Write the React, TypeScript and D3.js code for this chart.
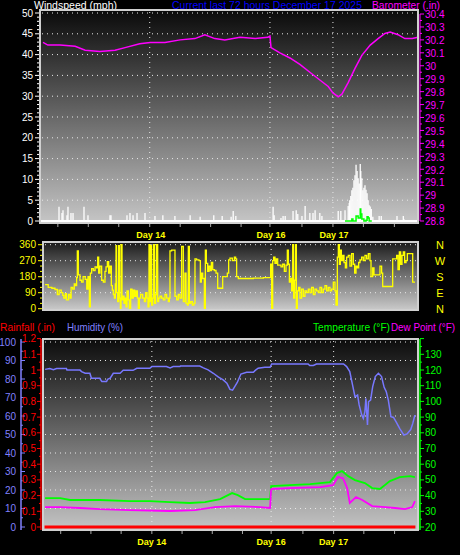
import React, { useEffect } from "react";
import * as d3 from "d3";

// ---------- data (time in hours over the last 72 hours) ----------
const dayLabels = ["Day 14", "Day 16", "Day 17"];
const dayHours = [20.9, 43.8, 55.8];
const tickHours = [3.4, 9.2, 15.0, 20.9, 26.7, 32.5, 38.3, 43.8, 49.9, 55.8, 61.6, 67.5];

const windBars: [number, number][] = [
  [3.62, 3.4], [4.19, 1.9], [4.38, 2.6], [5.14, 1.4], [5.33, 3.4], [5.9, 1.9], [6.29, 1.9],
  [8.38, 3.4], [9.14, 1.4], [13.33, 1.4], [13.52, 1.4], [16.57, 1.4], [17.14, 1.9], [17.72, 1.4],
  [18.48, 1.9], [20.0, 1.9], [21.9, 1.2], [23.4, 1.4], [25.7, 1.2], [28.6, 1.4], [30.5, 1.0],
  [33.1, 1.4], [34.7, 1.2], [36.4, 1.0], [36.8, 2.4], [37.3, 1.2], [44.4, 3.4], [44.6, 1.4],
  [45.9, 0.7], [46.3, 1.2], [46.7, 1.2], [48.2, 2.4], [48.8, 2.6], [49.1, 1.7], [49.9, 1.2],
  [50.5, 3.6], [51.4, 1.9], [52.0, 1.9], [52.4, 2.6], [53.3, 1.9], [53.7, 1.2], [56.8, 2.4],
  [57.3, 2.4], [58.1, 2.6], [58.7, 3.6], [58.9, 4.3], [59.0, 5.0], [59.2, 6.0], [59.4, 7.4],
  [59.6, 8.0], [59.8, 9.8], [60.0, 11.0], [60.2, 13.5], [60.4, 12.0], [60.6, 10.3], [60.8, 9.0],
  [61.0, 13.7], [61.1, 12.0], [61.3, 10.3], [61.5, 7.4], [61.7, 8.0], [61.9, 8.6], [62.1, 7.5],
  [62.3, 6.7], [62.5, 5.0], [62.7, 3.8], [62.9, 3.5], [63.1, 2.9], [63.4, 1.0], [64.6, 1.2],
  [65.0, 1.2], [68.0, 1.2], [69.2, 1.2], [69.3, 0.5],
];

const windAvg: [number, number][] = [
  [58.1, 0], [59.4, 0.5], [59.6, 0], [60.2, 1.2], [60.6, 0.7], [61.0, 2.9], [61.1, 1.7],
  [61.3, 0.5], [61.7, 0], [62.1, 0.2], [62.3, 1.0], [62.5, 0.7], [62.7, 0], [63.2, 0],
];

const barometer: [number, number][] = [
  [0.57, 30.18], [1.5, 30.16], [3.8, 30.16], [6.7, 30.15], [8.6, 30.12], [11.4, 30.11],
  [14.3, 30.12], [16.2, 30.14], [19.0, 30.17], [21.0, 30.18], [23.8, 30.18], [26.7, 30.2],
  [29.5, 30.21], [31.4, 30.24], [33.3, 30.21], [35.2, 30.2], [38.1, 30.22], [41.0, 30.21],
  [43.4, 30.22], [43.8, 30.23], [44.0, 30.14], [45.7, 30.1], [47.6, 30.06], [49.5, 30.01],
  [51.4, 29.95], [53.3, 29.89], [54.9, 29.84], [55.8, 29.79], [56.8, 29.76], [57.5, 29.78],
  [58.7, 29.87], [60.0, 29.98], [61.3, 30.08], [62.9, 30.16], [64.4, 30.21], [65.7, 30.25],
  [66.7, 30.26], [68.2, 30.24], [69.5, 30.21], [70.9, 30.21], [72.0, 30.22],
];

const windDir: [number, number][] = [
  [0.4, 135], [1.0, 120], [1.7, 115], [2.3, 108], [2.75, 80], [3.1, 105], [3.5, 90], [3.8, 75],
  [4.0, 60], [4.3, 85], [4.5, 50], [4.9, 80], [5.2, 60], [5.4, 120], [5.7, 110], [6.0, 140],
  [6.2, 130], [6.46, 175], [6.59, 325], [6.78, 190], [7.1, 160], [7.4, 150], [7.7, 180],
  [8.1, 165], [8.4, 110], [8.64, 180], [8.9, 10], [9.09, 200], [9.34, 225], [9.66, 215],
  [10.0, 235], [10.3, 230], [10.5, 290], [10.69, 200], [10.94, 240], [11.26, 160], [11.58, 150],
  [11.9, 210], [12.1, 235], [12.35, 265], [12.61, 200], [12.86, 240], [13.12, 130], [13.31, 105],
  [13.5, 80], [13.7, 60], [13.89, 140], [14.02, 355], [14.14, 90], [14.34, 40], [14.53, 355],
  [14.66, 60], [14.85, 0], [14.98, 360], [15.17, 50], [15.36, 70], [15.55, 30], [15.74, 60],
  [15.94, 10], [16.13, 100], [16.38, 50], [16.58, 0], [16.83, 110], [17.09, 60], [17.34, 105],
  [17.6, 70], [17.86, 100], [18.11, 60], [18.3, 0], [18.5, 60], [18.75, 80], [19.14, 60],
  [19.46, 40], [19.71, 90], [19.97, 60], [20.16, 10], [20.35, 360], [20.48, 40], [20.67, 355],
  [20.86, 20], [21.06, 60], [21.25, 360], [21.44, 30], [21.63, 80], [21.82, 360], [22.02, 40],
  [22.21, 60], [22.46, 70], [22.78, 60], [23.1, 50], [23.42, 80], [23.74, 60], [24.06, 40],
  [24.26, 60], [24.38, 325], [24.7, 330], [25.34, 70], [25.66, 50], [25.98, 80], [26.3, 60],
  [26.62, 350], [26.94, 40], [27.26, 200], [27.46, 30], [27.71, 20], [27.9, 350], [28.1, 30],
  [28.35, 40], [28.67, 20], [28.99, 30], [29.18, 280], [29.5, 275], [29.95, 270], [30.21, 150],
  [30.4, 200], [30.66, 170], [30.98, 0], [31.17, 330], [31.36, 255], [31.62, 210], [31.87, 240],
  [32.13, 215], [32.32, 260], [32.58, 220], [32.9, 215], [33.22, 200], [33.54, 115], [34.5, 180],
  [35.39, 200], [35.65, 275], [35.9, 285], [36.35, 270], [36.74, 290], [36.99, 280], [37.18, 180],
  [37.5, 170], [40.38, 172], [42.3, 175], [43.71, 250], [43.9, 0], [44.1, 270], [44.29, 290],
  [44.54, 255], [44.8, 280], [45.06, 245], [45.7, 235], [46.02, 250], [46.34, 210], [46.66, 245],
  [46.91, 330], [47.1, 250], [47.3, 150], [47.55, 170], [47.74, 100], [47.94, 360], [48.13, 60],
  [48.32, 160], [48.51, 360], [48.64, 0], [48.83, 100], [49.09, 120], [49.34, 60], [49.66, 110],
  [49.98, 70], [50.3, 100], [50.62, 90], [50.94, 110], [51.26, 90], [51.58, 120], [51.9, 80],
  [52.22, 110], [52.54, 100], [52.86, 90], [53.18, 120], [53.5, 90], [53.82, 110], [54.14, 130],
  [54.46, 100], [54.78, 120], [55.1, 100], [55.42, 110], [55.74, 150], [56.06, 100], [56.26, 20],
  [56.51, 290], [56.7, 360], [56.9, 250], [57.09, 330], [57.28, 270], [57.54, 300], [57.79, 260],
  [58.05, 230], [58.3, 290], [58.62, 300], [58.94, 240], [59.26, 310], [59.58, 250], [59.84, 200],
  [60.1, 240], [60.35, 230], [60.61, 260], [60.86, 275], [61.18, 290], [61.5, 270], [61.82, 300],
  [62.14, 280], [62.46, 310], [62.78, 270], [62.98, 180], [63.3, 230], [63.55, 190], [64.7, 240],
  [65.02, 200], [65.22, 125], [67.14, 280], [67.9, 300], [68.16, 220], [68.42, 320], [68.67, 250],
  [68.93, 300], [69.18, 320], [69.44, 260], [69.7, 270], [69.95, 310], [70.98, 150], [71.42, 150],
];

const humidity: [number, number][] = [
  [0.4, 85.2], [1.3, 85.7], [2.0, 85.0], [2.6, 85.7], [4.5, 85.7], [4.6, 84.8], [7.1, 84.8],
  [7.4, 84.0], [8.1, 83.1], [9.0, 83.1], [9.3, 80.4], [10.9, 80.4], [11.3, 78.6], [12.2, 78.6],
  [12.4, 79.8], [12.9, 80.4], [13.5, 83.1], [14.8, 83.1], [15.4, 84.7], [17.3, 84.7], [18.0, 85.8],
  [20.5, 85.8], [20.9, 86.7], [23.7, 86.7], [24.4, 86.0], [25.0, 86.7], [26.3, 86.7], [26.4, 87.0],
  [30.1, 87.0], [30.8, 86.0], [31.7, 84.9], [32.7, 83.1], [33.7, 81.0], [34.6, 79.5], [35.3, 77.7],
  [35.9, 74.4], [36.4, 74.0], [36.9, 76.3], [37.3, 78.1], [38.0, 82.7], [39.1, 83.6], [40.4, 83.6],
  [40.7, 84.5], [41.3, 85.8], [42.6, 86.3], [43.6, 86.3], [43.9, 88.1], [50.9, 88.1], [51.2, 87.3],
  [51.9, 87.3], [52.5, 88.1], [57.7, 88.1], [58.3, 86.7], [58.9, 84.0], [59.5, 75.9], [59.9, 70.4],
  [60.4, 71.3], [60.7, 66.0], [61.2, 60.5], [61.5, 58.7], [61.8, 62.3], [62.0, 69.5], [62.3, 55.1],
  [62.5, 67.7], [62.9, 68.6], [63.3, 75.9], [63.8, 81.3], [64.4, 83.1], [65.0, 81.3], [65.5, 75.5],
  [65.9, 73.2], [66.3, 68.6], [66.8, 59.6], [67.3, 59.2], [67.8, 56.8], [68.5, 53.2], [69.3, 49.7],
  [69.9, 50.3], [70.6, 52.7], [71.0, 56.0], [71.4, 60.5],
];

const temperature: [number, number][] = [
  [0.4, 38.4], [3.3, 38.4], [5.2, 37.2], [10.9, 37.2], [16.7, 36.5], [20.5, 36.5], [24.4, 35.9],
  [28.2, 35.3], [31.1, 35.9], [34.0, 37.8], [36.3, 41.6], [37.4, 40.3], [38.8, 37.8], [41.7, 37.8],
  [43.6, 37.8], [43.8, 46.1], [47.4, 46.7], [51.3, 47.3], [55.1, 48.6], [56.4, 54.3], [57.4, 55.6],
  [58.6, 52.4], [59.9, 49.9], [61.8, 48.0], [63.2, 44.8], [64.7, 44.2], [66.6, 49.2], [68.5, 51.8],
  [70.5, 52.4], [71.4, 51.8],
];

const dewPoint: [number, number][] = [
  [0.4, 32.7], [3.3, 32.7], [7.1, 32.1], [10.9, 31.4], [16.7, 30.8], [24.4, 30.2], [29.2, 30.8],
  [33.0, 32.7], [36.9, 33.3], [41.7, 32.7], [43.6, 32.1], [43.8, 44.2], [47.4, 44.8], [53.2, 45.4],
  [55.7, 46.7], [56.6, 51.8], [57.6, 51.1], [58.4, 44.8], [58.9, 35.3], [60.1, 39.1], [61.3, 37.2],
  [63.2, 33.3], [65.7, 32.7], [67.6, 32.1], [69.5, 31.4], [70.9, 32.7], [71.4, 36.5],
];

const rainfall: [number, number][] = [[0.3, 0], [71.5, 0]];

const compass = ["N", "E", "S", "W", "N"];
const compassDeg = [0, 90, 180, 270, 360];

// ---------- helpers ----------
const FONT = "'Liberation Sans', Arial, sans-serif";
const fmt = (v: number) => String(+v.toFixed(2));
const steps = (a: number, b: number, s: number) => {
  const n = Math.round((b - a) / s);
  return d3.range(n + 1).map((i) => +(a + i * s).toFixed(4));
};

export default function App() {
  useEffect(() => {
    document.body.style.margin = "0";
    document.body.style.background = "#000";
  }, []);

  // top panel
  const T = { x0: 40, x1: 418, y0: 10, y1: 223 };
  const xTop = d3.scaleLinear().domain([0, 72]).range([T.x0, T.x1]);
  const yWind = d3.scaleLinear().domain([0, 50]).range([221, 13]);
  const yBaro = d3.scaleLinear().domain([28.8, 30.4]).range([221, 14]);

  // middle panel
  const M = { x0: 43, x1: 418, y0: 242, y1: 310 };
  const xMid = d3.scaleLinear().domain([0, 72]).range([M.x0, M.x1]);
  const yDir = d3.scaleLinear().domain([0, 360]).range([308.7, 244.7]);

  // bottom panel
  const B = { x0: 43, x1: 418, y0: 339, y1: 530 };
  const xBot = d3.scaleLinear().domain([0, 72]).range([B.x0, B.x1]);
  const yHum = d3.scaleLinear().domain([0, 100]).range([527, 342]);
  const yRain = d3.scaleLinear().domain([0, 1.2]).range([527, 338.6]);
  const yTemp = d3.scaleLinear().domain([20, 140]).range([527, 338.6]);

  const lineFn = (x: any, y: any, curve: any = d3.curveLinear) =>
    d3.line<[number, number]>().x((d) => x(d[0])).y((d) => y(d[1])).curve(curve);

  const grid = "#e8e8e8";
  const dash = "1 4";

  const frame = (P: any, id: string) => (
    <rect x={P.x0} y={P.y0} width={P.x1 - P.x0} height={P.y1 - P.y0} fill={`url(#${id})`} />
  );
  const border = (P: any) => (
    <rect x={P.x0} y={P.y0} width={P.x1 - P.x0} height={P.y1 - P.y0} fill="none" stroke="#d0d0d0" strokeWidth={2} />
  );

  return (
    <svg width={460} height={555} style={{ display: "block", position: "absolute", left: 0, top: 0, background: "#000" }} fontFamily={FONT}>
      <defs>
        <linearGradient id="gT" x1="0" y1="0" x2="0" y2="1">
          <stop offset="0" stopColor="#0a0a0a" />
          <stop offset="1" stopColor="#c6c6c6" />
        </linearGradient>
        <linearGradient id="gM" x1="0" y1="0" x2="0" y2="1">
          <stop offset="0" stopColor="#1c1c1c" />
          <stop offset="1" stopColor="#cacaca" />
        </linearGradient>
        <linearGradient id="gB" x1="0" y1="0" x2="0" y2="1">
          <stop offset="0" stopColor="#0c0c0c" />
          <stop offset="1" stopColor="#c4c4c4" />
        </linearGradient>
      </defs>
      <rect x={0} y={0} width={460} height={555} fill="#000" />

      {/* ================= TOP PANEL ================= */}
      <text x={34} y={8.5} fontSize={10.5} fill="#ffffff" textLength={83} lengthAdjust="spacingAndGlyphs">Windspeed (mph)</text>
      <text x={172} y={8.5} fontSize={10.5} fill="#0000ff" textLength={190} lengthAdjust="spacingAndGlyphs">Current last 72 hours December 17 2025</text>
      <text x={372} y={8.5} fontSize={10.5} fill="#ff00ff" textLength={68} lengthAdjust="spacingAndGlyphs">Barometer (.in)</text>
      {frame(T, "gT")}
      {steps(5, 50, 5).map((v) => (
        <line key={"tg" + v} x1={T.x0 + 2} x2={T.x1 - 2} y1={yWind(v)} y2={yWind(v)} stroke={grid} strokeDasharray={dash} />
      ))}
      {dayHours.map((h, i) => (
        <line key={"tv" + i} x1={xTop(h)} x2={xTop(h)} y1={T.y0 + 2} y2={T.y1 - 2} stroke={grid} strokeDasharray={dash} />
      ))}
      <path d={lineFn(xTop, yBaro)(barometer) || ""} fill="none" stroke="#ff00ff" strokeWidth={1.5} />
      {windBars.map((d, i) => (
        <line key={"wb" + i} x1={xTop(d[0])} x2={xTop(d[0])} y1={yWind(0)} y2={yWind(d[1])} stroke="#ffffff" strokeWidth={1.3} />
      ))}
      <line x1={xTop(0)} x2={xTop(72)} y1={yWind(0)} y2={yWind(0)} stroke="#ffffff" strokeWidth={2} />
      <path d={lineFn(xTop, yWind, d3.curveStepAfter)(windAvg) || ""} fill="none" stroke="#00ff00" strokeWidth={1.5} />
      {border(T)}
      {steps(0, 50, 1).map((v) => (
        <line key={"tl" + v} x1={T.x0 - 1} x2={T.x0 - (v % 5 === 0 ? 5 : 3)} y1={yWind(v)} y2={yWind(v)} stroke="#ffffff" />
      ))}
      {steps(0, 50, 5).map((v) => (
        <text key={"tlt" + v} x={33} y={yWind(v)} dy="0.35em" fontSize={10} fill="#ffffff" textAnchor="end">{fmt(v)}</text>
      ))}
      <line x1={T.x1 + 2} x2={T.x1 + 2} y1={yBaro(28.8)} y2={yBaro(30.4)} stroke="#ff00ff" />
      {steps(28.8, 30.4, 0.05).map((v, i) => (
        <line key={"tr" + i} x1={T.x1 + 2} x2={T.x1 + (i % 2 === 0 ? 6 : 4)} y1={yBaro(v)} y2={yBaro(v)} stroke="#ff00ff" />
      ))}
      {steps(28.8, 30.4, 0.1).map((v, i) => (
        <text key={"trt" + i} x={425} y={yBaro(v) + 0.8} dy="0.35em" fontSize={10} fill="#ff00ff">{fmt(v)}</text>
      ))}
      {tickHours.map((h, i) => (
        <line key={"tx" + i} x1={xTop(h)} x2={xTop(h)} y1={T.y1 + 1} y2={T.y1 + 4} stroke="#a8a8a8" />
      ))}
      {dayHours.map((h, i) => (
        <text key={"td" + i} x={xTop(h) + 1} y={235} dy="0.35em" fontSize={9} fontWeight="bold" fill="#ffff00" textAnchor="middle">{dayLabels[i]}</text>
      ))}

      {/* ================= MIDDLE PANEL ================= */}
      {frame(M, "gM")}
      {steps(90, 360, 90).map((v) => (
        <line key={"mg" + v} x1={M.x0 + 2} x2={M.x1 - 2} y1={yDir(v)} y2={yDir(v)} stroke={grid} strokeDasharray={dash} />
      ))}
      {dayHours.map((h, i) => (
        <line key={"mv" + i} x1={xMid(h)} x2={xMid(h)} y1={M.y0 + 2} y2={M.y1 - 2} stroke={grid} strokeDasharray={dash} />
      ))}
      <path d={lineFn(xMid, yDir, d3.curveStepAfter)(windDir) || ""} fill="none" stroke="#ffff00" strokeWidth={1.3} />
      {border(M)}
      {steps(0, 360, 30).map((v) => (
        <line key={"ml" + v} x1={M.x0 - 1} x2={M.x0 - (v % 90 === 0 ? 5 : 3)} y1={yDir(v)} y2={yDir(v)} stroke="#ffff00" />
      ))}
      {steps(0, 360, 90).map((v) => (
        <text key={"mlt" + v} x={36} y={yDir(v)} dy="0.35em" fontSize={10} fill="#ffff00" textAnchor="end">{fmt(v)}</text>
      ))}
      {compassDeg.map((v, i) => (
        <text key={"mc" + i} x={440} y={yDir(v)} dy="0.35em" fontSize={11} fill="#ffff00" textAnchor="middle">{compass[i]}</text>
      ))}

      {/* ================= BOTTOM PANEL ================= */}
      <text x={0} y={331} fontSize={11} fill="#ff0000" textLength={55} lengthAdjust="spacingAndGlyphs">Rainfall (.in)</text>
      <text x={67} y={331} fontSize={11} fill="#8080ff" textLength={56} lengthAdjust="spacingAndGlyphs">Humidity (%)</text>
      <text x={313} y={331} fontSize={10.5} fill="#00ff00" textLength={77} lengthAdjust="spacingAndGlyphs">Temperature (°F)</text>
      <text x={391} y={331} fontSize={10} fill="#ff00ff" textLength={64} lengthAdjust="spacingAndGlyphs">Dew Point (°F)</text>
      {frame(B, "gB")}
      {steps(10, 100, 10).map((v) => (
        <line key={"bg" + v} x1={B.x0 + 2} x2={B.x1 - 2} y1={yHum(v)} y2={yHum(v)} stroke={grid} strokeDasharray={dash} />
      ))}
      {dayHours.map((h, i) => (
        <line key={"bv" + i} x1={xBot(h)} x2={xBot(h)} y1={B.y0 + 2} y2={B.y1 - 2} stroke={grid} strokeDasharray={dash} />
      ))}
      <path d={lineFn(xBot, yHum)(humidity) || ""} fill="none" stroke="#7878ff" strokeWidth={1.5} />
      <path d={lineFn(xBot, yTemp)(temperature) || ""} fill="none" stroke="#00ff00" strokeWidth={1.8} />
      <path d={lineFn(xBot, yTemp)(dewPoint) || ""} fill="none" stroke="#ff00ff" strokeWidth={1.8} />
      <path d={lineFn(xBot, yRain)(rainfall) || ""} fill="none" stroke="#ff0000" strokeWidth={3} />
      {border(B)}
      <line x1={21} x2={21} y1={B.y0} y2={B.y1} stroke="#8080ff" strokeWidth={1.5} />
      {steps(0, 100, 5).map((v) => (
        <line key={"bh" + v} x1={21} x2={v % 10 === 0 ? 25 : 23} y1={yHum(v)} y2={yHum(v)} stroke="#8080ff" />
      ))}
      {steps(0, 100, 10).map((v) => (
        <text key={"bht" + v} x={16} y={yHum(v)} dy="0.35em" fontSize={10} fill="#8080ff" textAnchor="end">{fmt(v)}</text>
      ))}
      <line x1={41} x2={41} y1={B.y0} y2={B.y1} stroke="#ff0000" strokeWidth={1.5} />
      {steps(0, 1.2, 0.05).map((v, i) => (
        <line key={"br" + i} x1={41} x2={i % 2 === 0 ? 37 : 39} y1={yRain(v)} y2={yRain(v)} stroke="#ff0000" />
      ))}
      {steps(0, 1.2, 0.1).map((v, i) => (
        <text key={"brt" + i} x={36} y={yRain(v)} dy="0.35em" fontSize={10} fill="#ff0000" textAnchor="end">{fmt(v)}</text>
      ))}
      <line x1={420} x2={420} y1={B.y0} y2={B.y1} stroke="#00ff00" strokeWidth={1.5} />
      {steps(20, 140, 5).map((v) => (
        <line key={"bt" + v} x1={420} x2={v % 10 === 0 ? 424 : 422} y1={yTemp(v)} y2={yTemp(v)} stroke="#00ff00" />
      ))}
      {steps(20, 130, 10).map((v) => (
        <text key={"btt" + v} x={425} y={yTemp(v)} dy="0.35em" fontSize={10} fill="#00ff00">{fmt(v)}</text>
      ))}
      {tickHours.map((h, i) => (
        <line key={"bx" + i} x1={xBot(h)} x2={xBot(h)} y1={B.y1 + 1} y2={B.y1 + 4} stroke="#a8a8a8" />
      ))}
      {dayHours.map((h, i) => (
        <text key={"bd" + i} x={xBot(h)} y={542} dy="0.35em" fontSize={9} fontWeight="bold" fill="#ffff00" textAnchor="middle">{dayLabels[i]}</text>
      ))}
    </svg>
  );
}
